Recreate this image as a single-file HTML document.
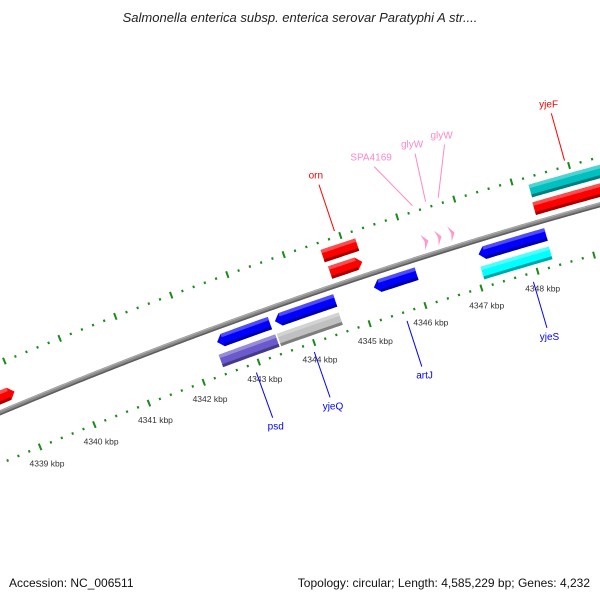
<!DOCTYPE html>
<html><head><meta charset="utf-8">
<style>
html,body{margin:0;padding:0;background:#fff;}
svg{display:block;font-family:"Liberation Sans","DejaVu Sans",sans-serif;}
</style></head>
<body>
<svg id="map" width="600" height="600" viewBox="0 0 600 600" xmlns="http://www.w3.org/2000/svg">
<text x="300" y="22" text-anchor="middle" font-size="13" font-style="italic" fill="#222">Salmonella enterica subsp. enterica serovar Paratyphi A str....</text>
<text x="9" y="587" font-size="12" fill="#111">Accession: NC_006511</text>
<text x="590" y="587" text-anchor="end" font-size="12" fill="#111">Topology: circular; Length: 4,585,229 bp; Genes: 4,232</text>
<g id="layer"></g>
</svg>
<script>
// ---- data ----
const tickLabelsKbp = [4339,4340,4341,4342,4343,4344,4345,4346,4347,4348];
const featNames  = ["left-gene","psd","psd-cog","yjeQ","yjeQ-cog","orn-cog","orn","artJ","SPA4169","glyW-1","glyW-2","yjeS","yjeS-cog","yjeF","yjeF-cog"];
const featStart  = [4338.3,4342.45,4342.40,4343.49,4343.45,4344.61,4344.64,4345.26,4346.28,4346.52,4346.75,4347.12,4347.09,4348.24,4348.26];
const featEnd    = [4338.96,4343.40,4343.42,4344.57,4344.56,4345.22,4345.21,4346.02,4346.38,4346.61,4346.84,4348.31,4348.30,4349.66,4349.66];
const featStrand = [1,-1,-1,-1,-1,1,1,-1,1,1,1,-1,-1,1,1];
const featSlot   = [1,1,2,1,2,2,1,1,1,1,1,1,2,1,2];
const featArrow  = [1,1,0,1,0,0,1,1,2,2,2,1,0,0,0];
const featColor  = ["#ff0000","#0000ff","#6a5acd","#0000ff","#c0c0c0","#ff0000","#ff0000","#0000ff","#ff99cc","#ff99cc","#ff99cc","#0000ff","#00ffff","#ff0000","#00c0c0"];
const labelText  = ["orn","SPA4169","glyW","glyW","yjeF","psd","yjeQ","artJ","yjeS"];
const labelKbp   = [4344.93,4346.30,4346.53,4346.75,4348.95,4342.90,4343.95,4345.62,4347.88];
const labelEndKbp= [4344.93,4345.89,4346.60,4347.11,4348.95,4342.90,4343.95,4345.62,4347.88];
const labelStrand= [1,1,1,1,1,-1,-1,-1,-1];
const labelColor = ["#ff0000","#ff88c8","#ff88c8","#ff88c8","#ff0000","#0000ff","#0000ff","#0000ff","#0000ff"];

// ---- geometry ----
const CX=1887, CY=4886, K0=4339, A0=-112.59, DEG_PER_KBP=0.699;
const R_BACK=4855, R_INNER_TICK=4808, R_OUTER_TICK=4901;
function ang(k){return (A0+(k-K0)*DEG_PER_KBP)*Math.PI/180;}
function pt(k,r){const a=ang(k);return [CX+r*Math.cos(a),CY+r*Math.sin(a)];}
const NS="http://www.w3.org/2000/svg";
const layer=document.getElementById('layer');
function mk(tag,attrs){const e=document.createElementNS(NS,tag);for(const k in attrs)e.setAttribute(k,attrs[k]);layer.appendChild(e);return e;}
function arcPts(k1,k2,r){const a=[];const n=Math.max(2,Math.ceil((k2-k1)/0.05));for(let i=0;i<=n;i++){a.push(pt(k1+(k2-k1)*i/n,r));}return a;}
function ptsStr(a){return a.map(p=>p[0].toFixed(2)+","+p[1].toFixed(2)).join(" ");}
const KMIN=4338.4, KMAX=4349.7;

// backbone
let bb=mk('polyline',{points:ptsStr(arcPts(KMIN,KMAX,R_BACK)),fill:'none',stroke:'#8a8a8a','stroke-width':5});


let bb2=mk('polyline',{points:ptsStr(arcPts(KMIN,KMAX,R_BACK-1.8)),fill:'none',stroke:'#5e5e5e','stroke-width':1.6});


let bb3=mk('polyline',{points:ptsStr(arcPts(KMIN,KMAX,R_BACK+1.6)),fill:'none',stroke:'#b0b0b0','stroke-width':1});



// ticks
function tickLine(k,r1,r2,w,name){const a=pt(k,r1),b=pt(k,r2);const l=mk('line',{x1:a[0],y1:a[1],x2:b[0],y2:b[1],stroke:'#1a8a1a','stroke-width':w});

}
for(let i=Math.ceil(KMIN*5);i<=Math.floor(KMAX*5);i++){
  const k=i/5; const major=(i%5===0);
  if(major){tickLine(k,R_INNER_TICK-3.5,R_INNER_TICK+3.5,2,'major-tick-inner');tickLine(k,R_OUTER_TICK-3.5,R_OUTER_TICK+3.5,2,'major-tick-outer');}
  else{tickLine(k,R_INNER_TICK-1.2,R_INNER_TICK+1.2,2,'minor-tick-inner');tickLine(k,R_OUTER_TICK-1.2,R_OUTER_TICK+1.2,2,'minor-tick-outer');}
}
tickLabelsKbp.forEach(k=>{const p=pt(k,4790);const t=mk('text',{x:p[0],y:p[1]+3,'text-anchor':'middle','font-size':'8.5',fill:'#333'});t.textContent=k+' kbp';

});

// features
function shade(hex,f){const n=parseInt(hex.slice(1),16);let r=n>>16,g=(n>>8)&255,b=n&255;
 const m=c=>f>0?Math.round(c+(255-c)*f):Math.round(c*(1+f));return 'rgb('+m(r)+','+m(g)+','+m(b)+')';}
const SLOT_R={'1':[4869,4841],'2':[4887,4822]};
const HALF=6.5, HEAD=0.1;
featStart.forEach((s,i)=>{
  const e=featEnd[i],st=featStrand[i],rc=SLOT_R[featSlot[i]][st>0?0:1],col=featColor[i];
  const ro=rc+HALF, ri=rc-HALF;
  let poly;
  if(featArrow[i]===2){ // small tRNA arrow
    const a=pt(s,rc+8),b=pt(e,rc),c=pt(s,rc-8),d=pt(s+(e-s)*0.35,rc);
    poly=[a,b,c,d];
  } else if(featArrow[i]===1){
    if(st>0){poly=arcPts(s,e-HEAD,ro).concat([pt(e,rc)]).concat(arcPts(s,e-HEAD,ri).reverse());}
    else{poly=[pt(s,rc)].concat(arcPts(s+HEAD,e,ro)).concat(arcPts(s+HEAD,e,ri).reverse());}
  } else {poly=arcPts(s,e,ro).concat(arcPts(s,e,ri).reverse());}
  const g=mk('polygon',{points:ptsStr(poly),fill:col});
  
  
  if(featArrow[i]!==2){
    const bs=(featArrow[i]===1&&st<0)?s+HEAD:s, be=(featArrow[i]===1&&st>0)?e-HEAD:e;
    const hi=arcPts(bs,be,ro).concat(arcPts(bs,be,ro-3.5).reverse());
    const h=mk('polygon',{points:ptsStr(hi),fill:shade(col,0.3)});
    
    
    const lo=arcPts(bs,be,ri+3).concat(arcPts(bs,be,ri).reverse());
    const d=mk('polygon',{points:ptsStr(lo),fill:shade(col,-0.35)});
    
    
  }
});

// labels
labelText.forEach((txt,i)=>{
  const fwd=labelStrand[i]>0;
  const a=pt(labelKbp[i],fwd?4907:4799), b=pt(labelEndKbp[i],fwd?4956:4751), c=pt(labelEndKbp[i],fwd?4966:4742);
  const l=mk('line',{x1:a[0],y1:a[1],x2:b[0],y2:b[1],stroke:labelColor[i],'stroke-width':1});
  
  
  const t=mk('text',{x:c[0],y:c[1]+3.5,'text-anchor':'middle','font-size':'10',fill:labelColor[i]});
  t.textContent=txt;
  
  
});
</script>
</body></html>
